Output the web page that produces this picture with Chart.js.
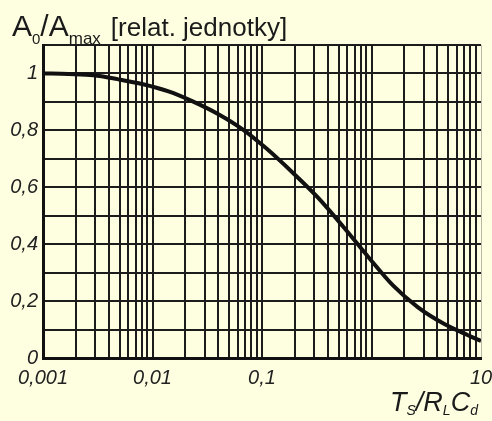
<!DOCTYPE html>
<html><head><meta charset="utf-8">
<script src="https://cdn.jsdelivr.net/npm/chart.js@4.4.1/dist/chart.umd.min.js"></script>
<style>
html,body{margin:0;padding:0;background:#fefee0;}
#wrap{position:relative;width:492px;height:421px;overflow:hidden;background:#fefee0;}
canvas{position:absolute;left:0;top:0;}
.t{position:absolute;white-space:nowrap;color:#1a1a1a;font-family:'Liberation Sans',Arial,sans-serif;line-height:1;}
.sub{position:relative;}
</style></head>
<body>
<div id="wrap">
<canvas id="c" width="492" height="421"></canvas>
<div class="t" id="yt" style="left:12px;top:11px;font-size:30px;">A<span class="sub" style="font-size:15px;top:8px">0</span>/A<span class="sub" style="font-size:17px;top:8px">max</span><span style="font-size:26px;margin-left:10px">[relat. jednotky]</span></div>
<div class="t" id="xt" style="left:390px;top:389px;font-size:27px;font-style:italic">T<span class="sub" style="font-size:14px;top:4px">S</span>/R<span class="sub" style="font-size:14px;top:4px">L</span>C<span class="sub" style="font-size:14px;top:4px">d</span></div>
</div>
<script>
// curve data (x = Ts/RLCd, y = A0/Amax)
const xValues = [0.001, 0.0017, 0.0029, 0.0048, 0.0082, 0.014, 0.023, 0.04, 0.067, 0.11, 0.19, 0.32, 0.55, 0.93, 1.57, 2.66, 4.5, 7.6, 10];
const aValues = [1.0, 0.998, 0.994, 0.980, 0.962, 0.937, 0.903, 0.857, 0.803, 0.736, 0.652, 0.566, 0.462, 0.356, 0.255, 0.178, 0.122, 0.080, 0.060];

// axis ticks
const xDecades = [0.001, 0.01, 0.1, 1];
const xMultipliers = [1, 2, 3, 4, 5, 6, 7, 8, 9];
const xLabelValues = [0.001, 0.01, 0.1, 10];
const xLabelTexts = ['0,001', '0,01', '0,1', '10'];
const yTickValues = [0, 0.1, 0.2, 0.3, 0.4, 0.5, 0.6, 0.7, 0.8, 0.9, 1.0, 1.1];
const yTickTexts = ['0', '', '0,2', '', '0,4', '', '0,6', '', '0,8', '', '1', ''];

const xTickValues = [];
xDecades.forEach(d => xMultipliers.forEach(m => xTickValues.push(+(d * m).toPrecision(3))));
xTickValues.push(10);

const ink = '#1c1c1c';
const tickFont = {family: "'Liberation Sans',Arial,sans-serif", size: 20, style: 'italic'};

new Chart(document.getElementById('c'), {
  type: 'line',
  data: {
    datasets: [{
      data: xValues.map((x, i) => ({x: x, y: aValues[i]})),
      borderColor: '#111',
      borderWidth: 4,
      pointRadius: 0,
      cubicInterpolationMode: 'monotone',
      fill: false
    }]
  },
  options: {
    responsive: false,
    animation: false,
    devicePixelRatio: 1,
    layout: {padding: {top: 45, right: 0, bottom: 0, left: 0}},
    plugins: {legend: {display: false}, tooltip: {enabled: false}, title: {display: false}},
    scales: {
      x: {
        type: 'logarithmic',
        min: 0.001,
        max: 10,
        afterBuildTicks: s => { s.ticks = xTickValues.map(v => ({value: v})); },
        afterFit: s => { s.height = 63; s.paddingRight = 11; s.paddingLeft = 0; },
        grid: {
          drawTicks: false,
          color: c => (c.tick && c.tick.value === 10) ? '#b8b8a8' : ink,
          lineWidth: c => (c.tick && c.tick.value === 10) ? 1 : 2
        },
        border: {display: true, color: '#111', width: 3},
        ticks: {
          autoSkip: false,
          maxRotation: 0,
          padding: 8,
          color: '#222',
          font: tickFont,
          callback: v => {
            const i = xLabelValues.findIndex(l => Math.abs(l - v) / l < 1e-6);
            return i >= 0 ? xLabelTexts[i] : '';
          }
        }
      },
      y: {
        type: 'linear',
        min: 0,
        max: 1.1,
        afterBuildTicks: s => { s.ticks = yTickValues.map(v => ({value: v})); },
        afterFit: s => { s.width = 43; s.paddingTop = 0; s.paddingBottom = 0; },
        grid: {drawTicks: false, color: ink, lineWidth: 2},
        border: {display: true, color: '#111', width: 3},
        ticks: {
          autoSkip: false,
          padding: 5,
          color: '#222',
          font: tickFont,
          callback: v => {
            const i = yTickValues.findIndex(t => Math.abs(t - v) < 1e-6);
            return i >= 0 ? yTickTexts[i] : '';
          }
        }
      }
    }
  }
});
</script>
</body></html>
